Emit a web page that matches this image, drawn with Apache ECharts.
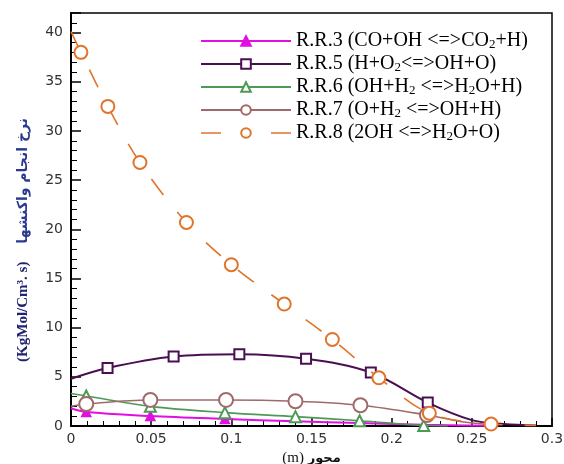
<!DOCTYPE html>
<html>
<head>
<meta charset="utf-8">
<script src="https://cdn.jsdelivr.net/npm/echarts@6/dist/echarts.min.js"></script>
<style>html,body{margin:0;padding:0;background:#fff}#c{width:564px;height:464px}</style>
</head>
<body>
<div id="c"></div>
<script>
// ---- data ----
const seriesNames = ['R.R.3 (CO+OH <=>CO2+H)', 'R.R.5 (H+O2<=>OH+O)', 'R.R.6 (OH+H2 <=>H2O+H)', 'R.R.7 (O+H2 <=>OH+H)', 'R.R.8 (2OH <=>H2O+O)'];
const legendRich = [
  '{n|R.R.3 (CO+OH <=>CO}{s|2}{n|+H)}',
  '{n|R.R.5 (H+O}{s|2}{n|<=>OH+O)}',
  '{n|R.R.6 (OH+H}{s|2}{n| <=>H}{s|2}{n|O+H)}',
  '{n|R.R.7 (O+H}{s|2}{n| <=>OH+H)}',
  '{n|R.R.8 (2OH <=>H}{s|2}{n|O+O)}'
];
const x3 = [0, 0.0095, 0.0495, 0.096, 0.14, 0.18, 0.22, 0.26];
const y3 = [1.8, 1.42, 1.02, 0.72, 0.48, 0.3, 0.12, 0.02];
const m3 = [0, 1, 1, 1, 0, 0, 0, 0];
const x5 = [0, 0.0228, 0.064, 0.105, 0.1466, 0.187, 0.2225, 0.25, 0.27, 0.29];
const y5 = [4.8, 5.9, 7.07, 7.3, 6.84, 5.44, 2.38, 0.6, 0.2, 0.05];
const m5 = [0, 1, 1, 1, 1, 1, 1, 0, 0, 0];
const x6 = [0, 0.0095, 0.0495, 0.096, 0.14, 0.18, 0.22, 0.235];
const y6 = [3.3, 3.05, 2.0, 1.36, 0.95, 0.54, 0.05, 0];
const m6 = [0, 1, 1, 1, 1, 1, 1, 0];
const x7 = [0, 0.0095, 0.0495, 0.0967, 0.14, 0.1805, 0.222, 0.245, 0.265];
const y7 = [2.0, 2.24, 2.65, 2.65, 2.52, 2.11, 1.12, 0.4, 0.1];
const m7 = [0, 1, 1, 1, 1, 1, 1, 0, 0];
const x8 = [0, 0.0062, 0.023, 0.043, 0.072, 0.100, 0.133, 0.163, 0.192, 0.2235, 0.262, 0.29];
const y8 = [40.1, 38.0, 32.5, 26.8, 20.7, 16.4, 12.4, 8.8, 4.9, 1.3, 0.2, 0.05];
const m8 = [0, 1, 1, 1, 1, 1, 1, 1, 1, 1, 1, 0];
const xTicks = [0, 0.05, 0.1, 0.15, 0.2, 0.25, 0.3];
const yTicks = [0, 5, 10, 15, 20, 25, 30, 35, 40];
const yTitleUnit = '(KgMol/Cm³. s)';
const yTitleFa = 'نرخ انجام واکنشها';
const xTitleUnit = '(m)';
const xTitleFa = 'محور';

const colors = ['#e010e0', '#4a0f50', '#4c9a55', '#a06a6a', '#e0742a'];
const symbols = ['triangle', 'emptyRect', 'emptyTriangle', 'emptyCircle', 'emptyCircle'];
const symSizes = [9, 10, 11, 14, 13];
const widths = [2, 2, 1.6, 1.6, 1.6];

function build(xs, ys, ms) {
  return xs.map((x, i) => ms[i] ? [x, ys[i]] : { value: [x, ys[i]], symbol: 'none' });
}
const sets = [[x3, y3, m3], [x5, y5, m5], [x6, y6, m6], [x7, y7, m7], [x8, y8, m8]];

const series = sets.map((s, i) => ({
  name: seriesNames[i],
  type: 'line',
  data: build(s[0], s[1], s[2]),
  smooth: 0.35,
  symbol: symbols[i],
  symbolSize: symSizes[i],
  showAllSymbol: true,
  color: colors[i],
  itemStyle: { color: colors[i], borderColor: colors[i], borderWidth: 1.6 },
  lineStyle: { color: colors[i], width: widths[i], type: i === 4 ? [20, 22] : 'solid' },
  z: 2 + i
}));

const legendData = seriesNames.map((n, i) => i === 4
  ? { name: n, lineStyle: { type: [20, 50], width: 1.6 } }
  : { name: n });

const chart = echarts.init(document.getElementById('c'));
chart.setOption({
  animation: false,
  backgroundColor: '#fff',
  grid: { left: 71, right: 12, top: 13, bottom: 38, outerBoundsMode: 'none', containLabel: false,
    show: true, borderColor: '#000', borderWidth: 1.5, backgroundColor: 'transparent' },
  xAxis: {
    type: 'value', min: 0, max: 0.3, interval: 0.05,
    axisLine: { lineStyle: { color: '#000', width: 2 } },
    axisTick: { inside: true, length: 8, lineStyle: { color: '#000', width: 1.5 } },
    minorTick: { show: true, splitNumber: 5, length: 5, lineStyle: { color: '#000', width: 1 } },
    splitLine: { show: false },
    axisLabel: { margin: 6, color: '#333', fontFamily: 'DejaVu Sans', fontSize: 14,
      formatter: v => xTicks.some(t => Math.abs(t - v) < 1e-9) ? String(+v.toFixed(2)) : '' },
    name: '{u|' + xTitleUnit + ' }{f|' + xTitleFa + '}',
    nameLocation: 'middle', nameGap: 22,
    nameTextStyle: { rich: {
      u: { fontFamily: 'Liberation Serif', fontSize: 15, color: '#111' },
      f: { fontFamily: 'DejaVu Sans', fontSize: 13, fontWeight: 'bold', color: '#111' } } }
  },
  yAxis: {
    type: 'value', min: 0, max: 42, interval: 5,
    axisLine: { lineStyle: { color: '#000', width: 2 } },
    axisTick: { inside: true, length: 10, lineStyle: { color: '#000', width: 1.5 } },
    minorTick: { show: true, splitNumber: 5, length: 6, lineStyle: { color: '#000', width: 1 } },
    splitLine: { show: false },
    axisLabel: { margin: 8, color: '#333', fontFamily: 'DejaVu Sans', fontSize: 14, showMaxLabel: false,
      formatter: v => yTicks.indexOf(v) >= 0 ? String(v) : '' }
  },
  legend: {
    orient: 'vertical', left: 195, top: 26,
    itemWidth: 90, itemHeight: 12, itemGap: 3,
    data: legendData,
    formatter: name => legendRich[seriesNames.indexOf(name)],
    textStyle: { rich: {
      n: { fontFamily: 'Liberation Serif', fontSize: 20, color: '#000', lineHeight: 20 },
      s: { fontFamily: 'Liberation Serif', fontSize: 13, color: '#000', lineHeight: 11, verticalAlign: 'bottom' } } }
  },
  graphic: [{
    type: 'text', x: 23, y: 240, rotation: Math.PI / 2,
    style: {
      text: '{u|' + yTitleUnit + '}{g| }{f|' + yTitleFa + '}',
      align: 'center', verticalAlign: 'middle',
      rich: {
        u: { fontFamily: 'Liberation Serif', fontSize: 15, fontWeight: 'bold', fill: '#1f2370' },
        g: { fontSize: 15, width: 18 },
        f: { fontFamily: 'DejaVu Sans', fontSize: 14, fontWeight: 'bold', fill: '#2b3a90' }
      }
    }
  }],
  series: series
});
</script>
</body>
</html>
